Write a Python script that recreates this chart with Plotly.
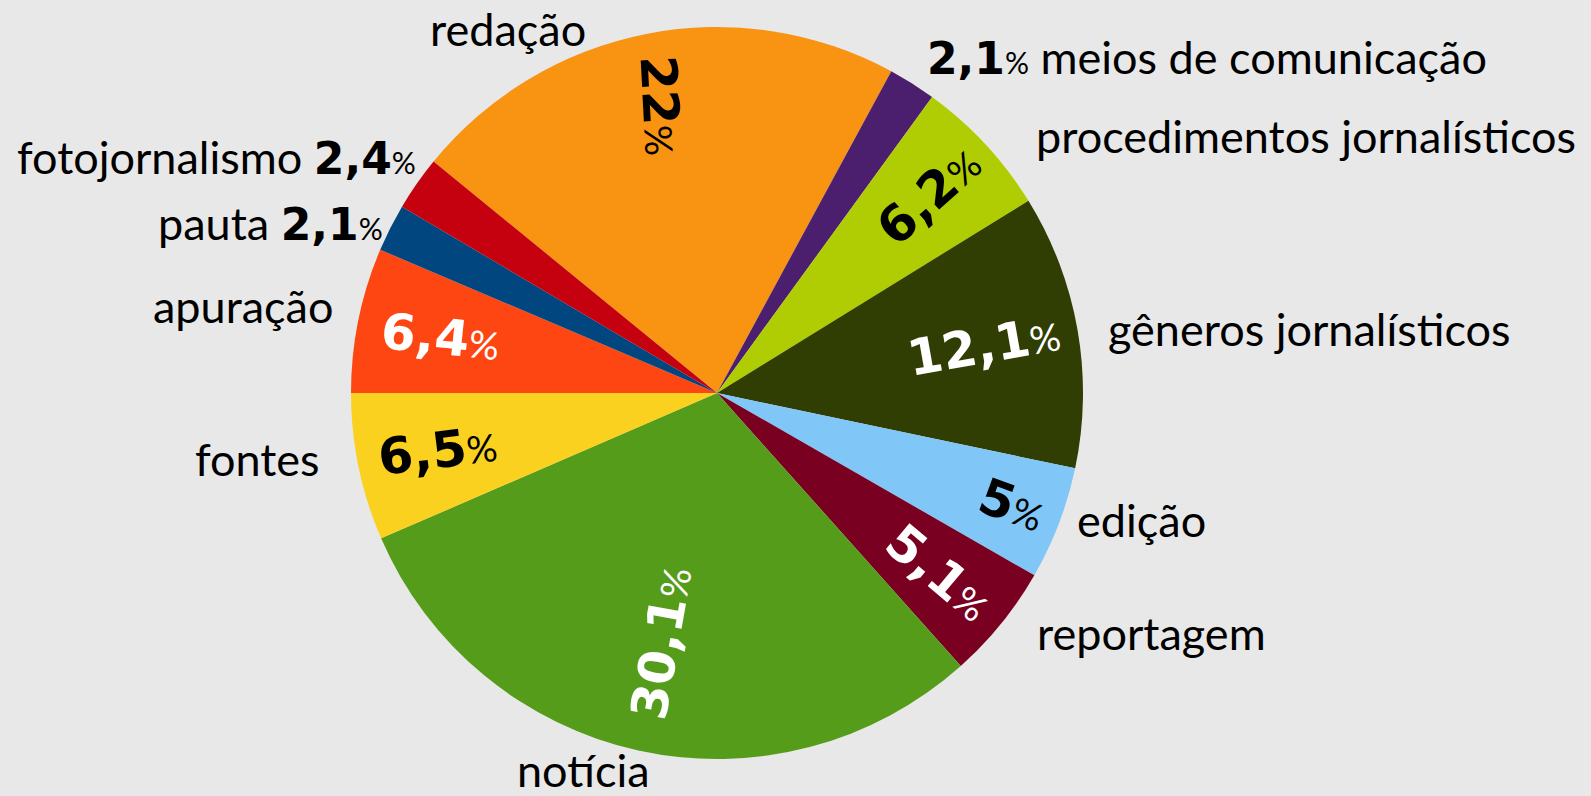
import math
import plotly.graph_objects as go

# ---- data ----
labels = ["redação", "meios de comunicação", "procedimentos jornalísticos",
          "gêneros jornalísticos", "edição", "reportagem", "notícia",
          "fontes", "apuração", "pauta", "fotojornalismo"]
values = [22, 2.1, 6.2, 12.1, 5, 5.1, 30.1, 6.5, 6.4, 2.1, 2.4]
pct_text = ["22", "2,1", "6,2", "12,1", "5", "5,1", "30,1", "6,5", "6,4", "2,1", "2,4"]

# ---- style ----
colors = ["#F99312", "#4C1F6E", "#AFCD02", "#303D03", "#80C7F8", "#7A0021",
          "#569C1B", "#FBD11F", "#FD4611", "#02467F", "#C5000F"]
W, H = 1591, 796
CX, CY, R = 717, 393, 366
START = -50.76          # degrees clockwise from 12 o'clock
BG = "#E8E8E8"

# inside percentage labels: index -> (radius fraction, text angle, colour)
inside = {
    0: (0.80, 87, "black"),
    2: (0.79, -42, "black"),
    3: (0.74, -10, "white"),
    4: (0.86, 20, "black"),
    5: (0.78, 40, "white"),
    6: (0.70, -80, "white"),
    7: (0.78, -7, "black"),
    8: (0.77, 6, "white"),
}
# outside labels: index -> (x px, y px, xanchor, mode)
outside = {
    0: (508, 29, "center", "label"),
    1: (926, 57, "left", "pct_label"),
    2: (1035, 136, "left", "label"),
    3: (1107, 329, "left", "label"),
    4: (1076, 520, "left", "label"),
    5: (1036, 633, "left", "label"),
    6: (516, 770, "left", "label"),
    7: (321, 459, "right", "label"),
    8: (334, 306, "right", "label"),
    9: (384, 223, "right", "label_pct"),
    10: (417, 157, "right", "label_pct"),
}


def pct_html(num, big, small):
    return (f"<span style='font-family:DejaVu Sans;font-weight:bold;font-size:{big}px'>{num}</span>"
            f"<span style='font-family:Lato;font-size:{small}px'>%</span>")


fig = go.Figure(go.Pie(
    labels=labels, values=values, sort=False, direction="clockwise",
    rotation=START, marker=dict(colors=colors, line=dict(width=0)),
    textinfo="none", hoverinfo="label+percent", showlegend=False,
    domain=dict(x=[(CX - R) / W, (CX + R) / W],
                y=[1 - (CY + R) / H, 1 - (CY - R) / H]),
))

total = sum(values)
annotations = []
cum = 0.0
for i, v in enumerate(values):
    mid = START + (cum + v / 2) / total * 360
    cum += v
    if i in inside:
        rf, ang, col = inside[i]
        th = math.radians(mid)
        px = CX + rf * R * math.sin(th)
        py = CY - rf * R * math.cos(th)
        annotations.append(dict(
            x=px / W, y=1 - py / H, xref="paper", yref="paper",
            text=pct_html(pct_text[i], 50, 38), showarrow=False,
            xanchor="center", yanchor="middle", textangle=ang, borderpad=0,
            font=dict(color=col, family="DejaVu Sans", size=50)))
    ox, oy, xa, mode = outside[i]
    if mode == "label":
        txt = labels[i]
    elif mode == "pct_label":
        txt = pct_html(pct_text[i], 44, 30) + " " + labels[i]
    else:
        txt = labels[i] + " " + pct_html(pct_text[i], 44, 30)
    annotations.append(dict(
        x=ox / W, y=1 - oy / H, xref="paper", yref="paper", text=txt,
        showarrow=False, xanchor=xa, yanchor="middle", borderpad=0,
        font=dict(color="black", family="Lato", size=45)))

fig.update_layout(
    width=W, height=H, margin=dict(l=0, r=0, t=0, b=0),
    paper_bgcolor=BG, plot_bgcolor=BG, annotations=annotations,
)

fig.write_html("out.html", config={"displayModeBar": False},
               post_script="document.body.style.margin='0';")
